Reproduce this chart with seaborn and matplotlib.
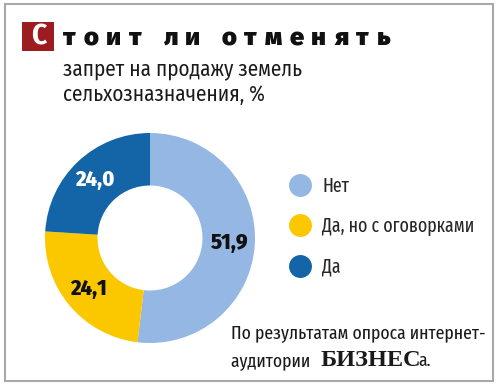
import matplotlib
matplotlib.use("Agg")
import matplotlib.pyplot as plt
import seaborn as sns
from matplotlib.patches import Rectangle
from matplotlib.lines import Line2D

# === Data ===
categories = ["Нет", "Да, но с оговорками", "Да"]
values = [51.9, 24.1, 24.0]
label_colors = ["#111111", "#111111", "#ffffff"]

title_cap = "С"
title_rest = "тоит ли отменять"
subtitle = ["запрет на продажу земель", "сельхозназначения, %"]
footer_1 = "По результатам опроса интернет-"
footer_2 = "аудитории "
footer_brand = "БИЗНЕС"
footer_end = "а."

# === Style ===
sns.set_theme(style="white")
palette = ["#94b7e3", "#fbc800", "#1464a8"]
cond = ["Fira Sans Condensed", "DejaVu Sans"]
xcond = ["Fira Sans Extra Condensed", "Fira Sans Condensed", "DejaVu Sans"]
heavy = ["Fira Sans", "DejaVu Sans"]
plt.rcParams["font.family"] = cond

W, H = 500, 386
fig = plt.figure(figsize=(W / 100, H / 100), dpi=100)
fig.patch.set_facecolor("white")


def fx(x):
    return x / W


def fy(y):
    return 1 - y / H


# outer frame
fig.patches.append(Rectangle((fx(5), fy(381)), fx(488), 377 / H, transform=fig.transFigure,
                             fill=False, edgecolor="#a8a8a8", linewidth=1.5))
# red initial box
fig.patches.append(Rectangle((fx(22), fy(51)), fx(32), 29 / H, transform=fig.transFigure,
                             facecolor="#9c1c20", edgecolor="none"))
fig.text(fx(38.5), fy(36.5), title_cap, color="white", fontsize=21, fontweight="bold",
         ha="center", va="center", family=cond)

# letter-spaced heading
fig.canvas.draw()
renderer = fig.canvas.get_renderer()
glyphs = []
for ch in title_rest.replace(" ", ""):
    t = fig.text(0, fy(45), ch, color="#111111", fontsize=18.5, fontweight="black",
                 ha="left", va="baseline", family=heavy)
    glyphs.append((t, t.get_window_extent(renderer).width))
sum_w = sum(w for _, w in glyphs)
x0, x1 = 63, 390
ratio = 2.7
n_words = len(title_rest.split())
n_gaps = len(glyphs) - 1 - (n_words - 1)
track = (x1 - x0 - sum_w) / (n_gaps + ratio * (n_words - 1))
x = x0
i = 0
for word in title_rest.split():
    for ch in word:
        t, w = glyphs[i]
        t.set_x(fx(x))
        x += w + track
        i += 1
    x += track * (ratio - 1)

fig.text(fx(63), fy(75), subtitle[0], color="#1a1a1a", fontsize=15.2, ha="left", va="baseline")
fig.text(fx(63), fy(101), subtitle[1], color="#1a1a1a", fontsize=15.2, ha="left", va="baseline")

# === Donut ===
cx, cy, r = 150, 238, 105
ax = fig.add_axes([fx(cx - r), fy(cy + r), 2 * r / W, 2 * r / H])
wedges, texts, autotexts = ax.pie(
    values,
    colors=palette,
    startangle=90,
    counterclock=False,
    radius=1.0,
    wedgeprops=dict(width=0.5, edgecolor="none"),
    autopct=lambda p: f"{p:.1f}".replace(".", ","),
    pctdistance=0.76,
)
for t, c in zip(autotexts, label_colors):
    t.set_color(c)
    t.set_fontsize(16)
    t.set_fontweight("heavy")
    t.set_family(cond)
ax.set_xlim(-1, 1)
ax.set_ylim(-1, 1)
ax.set_aspect("equal")
ax.axis("off")

# === Legend ===
handles = [Line2D([], [], marker="o", linestyle="none", markersize=16.5,
                  markerfacecolor=c, markeredgecolor="none") for c in palette]
fig.legend(handles, categories, loc="upper left", bbox_to_anchor=(fx(288), fy(176)),
           frameon=False, labelspacing=1.08, handletextpad=0.55,
           borderaxespad=0, borderpad=0, handlelength=1.2, prop=dict(family=xcond, size=14))

# === Footer ===
fig.text(fx(231), fy(338), footer_1, color="#1a1a1a", fontsize=13.8, ha="left", va="baseline",
         family=xcond)
t2 = fig.text(fx(231), fy(366), footer_2, color="#1a1a1a", fontsize=13.8, ha="left",
              va="baseline", family=xcond)
fig.canvas.draw()
bb = t2.get_window_extent()
t3 = fig.text((bb.x1 + 6) / W, fy(366), footer_brand, color="#1a1a1a", fontsize=17.5,
              fontweight="bold", ha="left", va="baseline", family=["Liberation Serif"])
fig.canvas.draw()
bb3 = t3.get_window_extent()
fig.text((bb3.x1 - 3) / W, fy(366), footer_end, color="#1a1a1a", fontsize=13.8, ha="left",
         va="baseline", family=xcond)

fig.savefig("out.png", dpi=100)
